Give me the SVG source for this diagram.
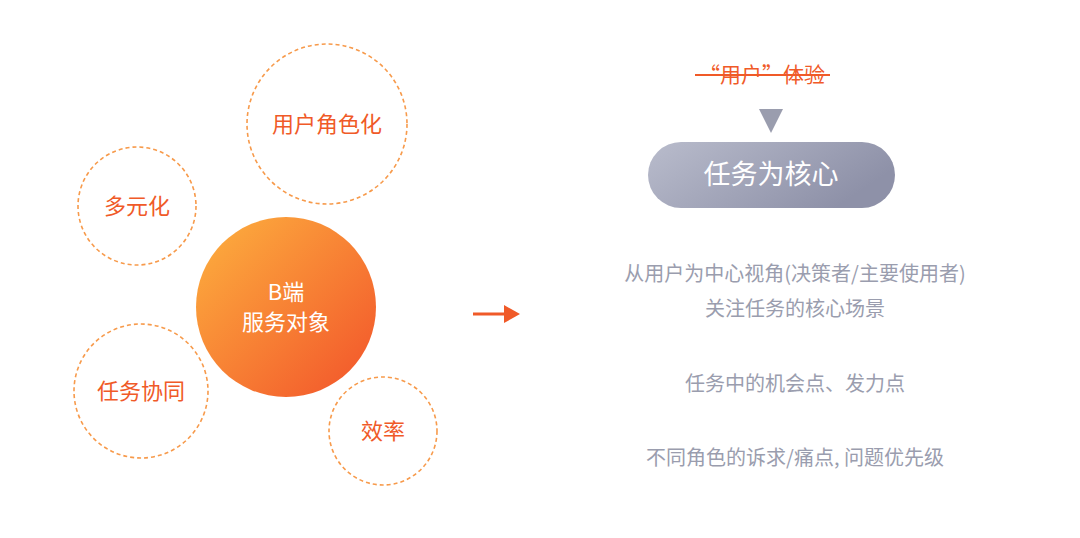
<svg xmlns="http://www.w3.org/2000/svg" width="1080" height="538" viewBox="0 0 1080 538">
<defs>
<linearGradient id="og" x1="0" y1="0" x2="1" y2="1"><stop offset="0" stop-color="#FDB23F"/><stop offset="1" stop-color="#F2522A"/></linearGradient>
<linearGradient id="pg" x1="0" y1="0" x2="1" y2="0.4"><stop offset="0" stop-color="#B9BCCC"/><stop offset="1" stop-color="#8E91A8"/></linearGradient>
<style>
.d{fill:none;stroke:#F79A4B;stroke-width:1.6;stroke-dasharray:4 3}
.o{font-family:"Noto Sans CJK SC",sans-serif;fill:#F05A28;font-size:22px;text-anchor:middle}
.g{font-family:"Noto Sans CJK SC",sans-serif;fill:#9A9DAE;font-size:20px;text-anchor:middle}
</style>
</defs>
<g id="n1"><circle class="d" cx="327" cy="124" r="80"/><text class="o" x="327" y="132">用户角色化</text></g>
<g id="n2"><circle class="d" cx="137" cy="206" r="59"/><text class="o" x="137" y="214">多元化</text></g>
<g id="n3"><circle class="d" cx="141" cy="391" r="67"/><text class="o" x="141" y="399">任务协同</text></g>
<g id="n4"><circle class="d" cx="383" cy="431" r="54"/><text class="o" x="383" y="439">效率</text></g>
<g id="center"><circle cx="286" cy="307" r="90" fill="url(#og)"/>
<text x="286" y="300" font-family="Noto Sans CJK SC,sans-serif" font-size="22" fill="#fff" text-anchor="middle">B端</text>
<text x="286" y="330" font-family="Noto Sans CJK SC,sans-serif" font-size="22" fill="#fff" text-anchor="middle">服务对象</text></g>
<g id="connectors"><line x1="473" y1="314" x2="508" y2="314" stroke="#F05A28" stroke-width="3"/><polygon points="504,305 520,314 504,323" fill="#F05A28"/></g>
<g id="h"><text x="762" y="82" font-family="Noto Sans CJK SC,sans-serif" font-size="21" fill="#F05A28" text-anchor="middle">“用户”体验</text><line x1="695" y1="75" x2="830" y2="75" stroke="#F05A28" stroke-width="2"/></g>
<polygon points="759,109 783,109 771,133" fill="#9A9DAE"/>
<g id="pill"><rect x="648" y="142" width="247" height="66" rx="33" fill="url(#pg)"/><text x="771" y="184" font-family="Noto Sans CJK SC,sans-serif" font-size="27" fill="#fff" text-anchor="middle">任务为核心</text></g>
<g id="t"><text class="g" x="795" y="281">从用户为中心视角(决策者/主要使用者)</text>
<text class="g" x="795" y="316">关注任务的核心场景</text>
<text class="g" x="795" y="391">任务中的机会点、发力点</text>
<text class="g" x="795" y="465">不同角色的诉求/痛点, 问题优先级</text></g>
</svg>
